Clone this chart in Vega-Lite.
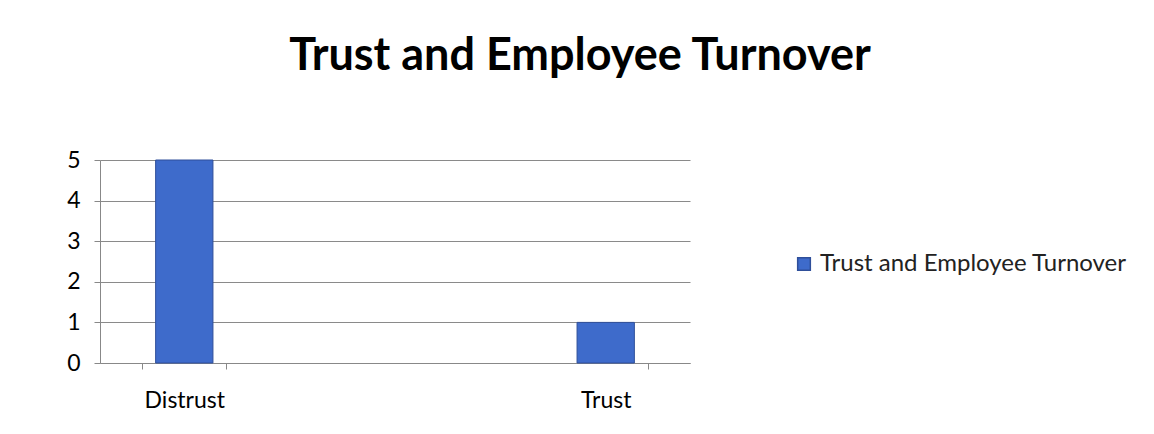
{
  "$schema": "https://vega.github.io/schema/vega-lite/v6.json",
  "autosize": {"type": "none"},
  "padding": {"left": 100, "top": 160, "right": 464, "bottom": 71},
  "width": 590,
  "height": 203,
  "background": "white",
  "title": {
    "text": "Trust and Employee Turnover",
    "font": "Lato",
    "fontSize": 45,
    "fontWeight": "bold",
    "color": "#000000",
    "anchor": "middle",
    "dx": 185,
    "offset": 70
  },
  "data": {
    "values": [
      {"category": "Distrust", "series": "Trust and Employee Turnover", "value": 5},
      {"category": "Trust", "series": "Trust and Employee Turnover", "value": 1}
    ]
  },
  "mark": {"type": "bar", "stroke": "#2F4F9A", "strokeWidth": 1, "width": {"band": 0.68}},
  "encoding": {
    "x": {
      "field": "category",
      "type": "nominal",
      "title": null,
      "sort": null,
      "scale": {"paddingInner": 0.8, "paddingOuter": 0.1},
      "axis": {
        "labelAngle": 0,
        "labelFont": "Lato",
        "labelFontSize": 23,
        "labelColor": "#000000",
        "labelPadding": 20,
        "domainColor": "#888888",
        "tickColor": "#888888",
        "tickBand": "extent",
        "tickSize": 6,
        "grid": false
      }
    },
    "y": {
      "field": "value",
      "type": "quantitative",
      "title": null,
      "scale": {"domain": [0, 5], "nice": false},
      "axis": {
        "values": [0, 1, 2, 3, 4, 5],
        "labelFont": "Lato",
        "labelFontSize": 23,
        "labelColor": "#000000",
        "labelPadding": 14,
        "domainColor": "#888888",
        "tickColor": "#888888",
        "tickSize": 6,
        "gridColor": "#8a8a8a",
        "gridWidth": 1.2
      }
    },
    "color": {
      "field": "series",
      "type": "nominal",
      "title": null,
      "scale": {"range": ["#3E6BCB"]},
      "legend": {
        "orient": "none",
        "legendX": 692,
        "legendY": 92,
        "symbolType": "square",
        "symbolSize": 160,
        "labelFont": "Lato",
        "labelFontSize": 24,
        "labelColor": "#222222",
        "labelLimit": 400
      }
    }
  },
  "config": {
    "view": {"stroke": null}
  }
}
